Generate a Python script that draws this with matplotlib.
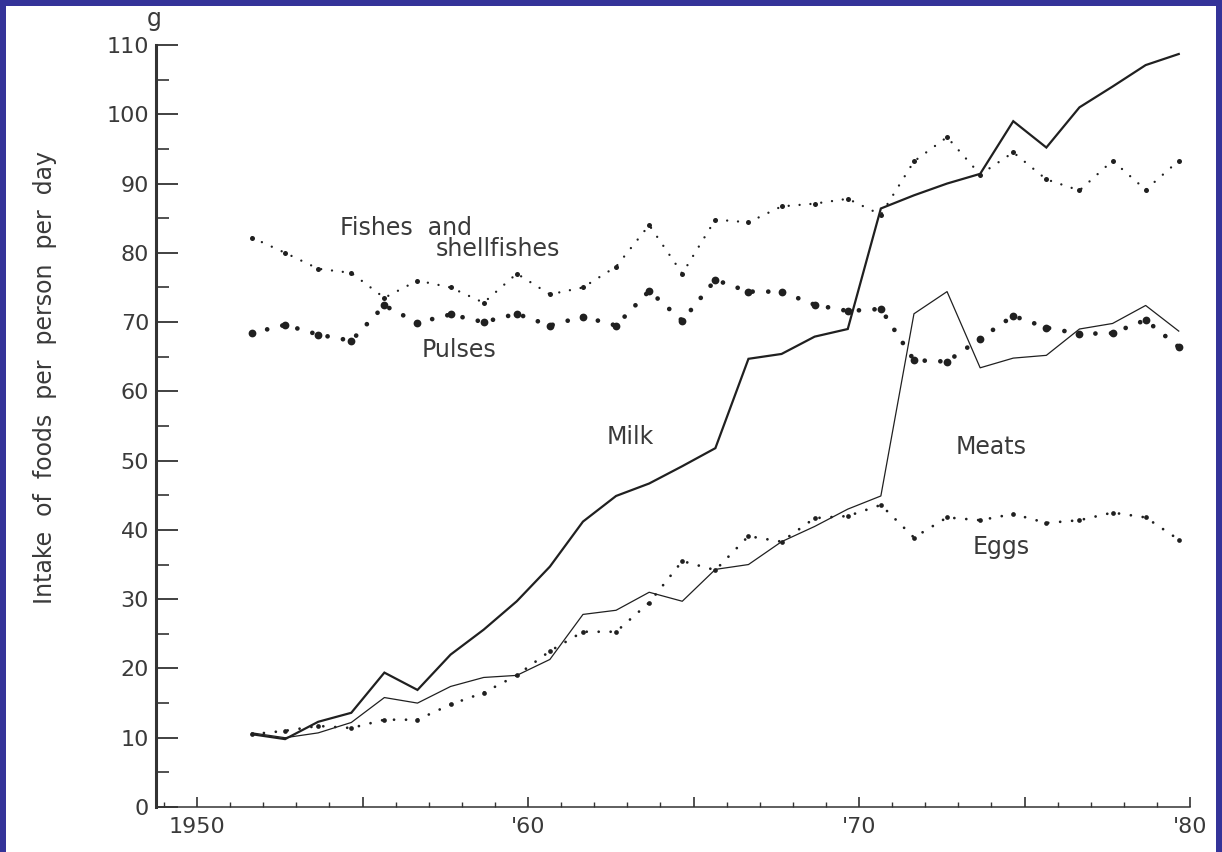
import matplotlib.pyplot as plt
import numpy as np
from matplotlib.patches import Rectangle
from matplotlib.ticker import MultipleLocator

# daily intake per person (g), survey years 1952-1980
years = np.arange(1952, 1981)

milk = [10.5, 9.8, 12.3, 13.6, 19.4, 16.9, 22.0, 25.6, 29.7, 34.7,
        41.2, 44.9, 46.7, 49.2, 51.8, 64.7, 65.4, 67.9, 69.0, 86.4,
        88.3, 90.0, 91.4, 99.0, 95.2, 101.0, 104.0, 107.1, 108.7]
meats = [10.7, 10.0, 10.7, 12.2, 15.8, 15.0, 17.4, 18.7, 19.0, 21.3,
         27.8, 28.4, 31.0, 29.7, 34.3, 35.0, 38.3, 40.5, 43.0, 44.9,
         71.2, 74.4, 63.4, 64.8, 65.2, 69.0, 69.8, 72.4, 68.7]
eggs = [10.5, 11.0, 11.7, 11.4, 12.6, 12.6, 14.8, 16.5, 19.0, 22.5,
        25.3, 25.3, 29.5, 35.5, 34.2, 39.1, 38.3, 41.7, 42.0, 43.6,
        38.9, 41.8, 41.4, 42.3, 41.0, 41.4, 42.5, 41.8, 38.6]
fishes = [82.2, 80.0, 77.7, 77.1, 73.5, 76.0, 75.0, 72.8, 77.0, 74.0,
          75.0, 78.0, 84.0, 77.0, 84.8, 84.4, 86.7, 87.1, 87.8, 85.5,
          93.2, 96.7, 91.3, 94.5, 90.6, 89.0, 93.3, 89.1, 93.3]
pulses = [68.4, 69.6, 68.2, 67.3, 72.4, 69.9, 71.1, 70.0, 71.2, 69.5,
          70.8, 69.5, 74.5, 70.2, 76.1, 74.4, 74.4, 72.5, 71.6, 71.9,
          64.5, 64.3, 67.6, 70.9, 69.2, 68.3, 68.4, 70.3, 66.4]

x_ticks = [1950, 1955, 1960, 1965, 1970, 1975, 1980]
x_ticklabels = ['1950', '', "'60", '', "'70", '', "'80"]

ink = '#202020'
txt = '#3a3a3a'

fig = plt.figure(figsize=(12.22, 8.52), dpi=100, facecolor='#343399')
# white sheet inside the blue frame
fig.add_artist(Rectangle((6 / 1222, 0), 1 - 12 / 1222, 1 - 6 / 852,
                         transform=fig.transFigure, facecolor='white',
                         edgecolor='none', zorder=-1))

ax = fig.add_axes([156 / 1222, 45 / 852, 1034 / 1222, 762 / 852])
ax.set_facecolor('none')

# each value sits a little before its year mark
x = years - 0.34

ax.plot(x, milk, color=ink, lw=1.6, solid_joinstyle='miter')
ax.plot(x, meats, color=ink, lw=0.9)

ax.plot(x, eggs, color=ink, lw=2.0, ls=(0, (0.01, 4.3)), dash_capstyle='round')
ax.plot(x, eggs, ls='none', marker='o', ms=3.4, color=ink, mec='none')

ax.plot(x, fishes, color=ink, lw=1.7, ls=(0, (0.01, 4.6)), dash_capstyle='round')
ax.plot(x, fishes, ls='none', marker='o', ms=3.6, color=ink, mec='none')

ax.plot(x, pulses, color=ink, lw=3.4, ls=(0, (0.01, 3.3)), dash_capstyle='round')
ax.plot(x, pulses, ls='none', marker='o', ms=5.6, color=ink, mec='none')

lab = dict(fontsize=17, color=txt, family='DejaVu Sans')
ax.text(1956.3, 83.6, 'Fishes  and', ha='center', va='center', **lab)
ax.text(1959.1, 80.6, 'shellfishes', ha='center', va='center', **lab)
ax.text(1957.9, 66.0, 'Pulses', ha='center', va='center', **lab)
ax.text(1963.1, 53.4, 'Milk', ha='center', va='center', **lab)
ax.text(1974.0, 52.0, 'Meats', ha='center', va='center', **lab)
ax.text(1974.3, 37.5, 'Eggs', ha='center', va='center', **lab)
# unit mark just above the top of the value axis
ax.text(1948.72, 112.0, 'g', ha='center', va='bottom', clip_on=False, **lab)

ax.set_xlim(1948.76, 1980.0)
ax.set_ylim(0, 110)

for side in ('top', 'right'):
    ax.spines[side].set_visible(False)
ax.spines['left'].set_linewidth(2.2)
ax.spines['left'].set_color('#333333')
ax.spines['bottom'].set_linewidth(1.1)
ax.spines['bottom'].set_color('#333333')

ax.yaxis.set_major_locator(MultipleLocator(10))
ax.yaxis.set_minor_locator(MultipleLocator(5))
ax.set_xticks(x_ticks)
ax.set_xticklabels(x_ticklabels)
ax.xaxis.set_minor_locator(MultipleLocator(1))

ax.tick_params(axis='y', which='major', direction='in', length=16, width=1.3,
               color='#333333', labelsize=16, labelcolor=txt, pad=5)
ax.tick_params(axis='y', which='minor', direction='in', length=9, width=1.2,
               color='#333333')
ax.tick_params(axis='x', which='major', direction='in', length=7, width=1.2,
               color='#333333', labelsize=16, labelcolor=txt, pad=7)
ax.tick_params(axis='x', which='minor', direction='in', length=3.5, width=1.0,
               color='#333333')

fig.text(45 / 1222, 1 - 378 / 852, 'Intake  of  foods  per  person  per  day',
         rotation=90, ha='center', va='center', fontsize=17, color=txt,
         family='DejaVu Sans')

fig.savefig('out.png', dpi=100, facecolor=fig.get_facecolor())
